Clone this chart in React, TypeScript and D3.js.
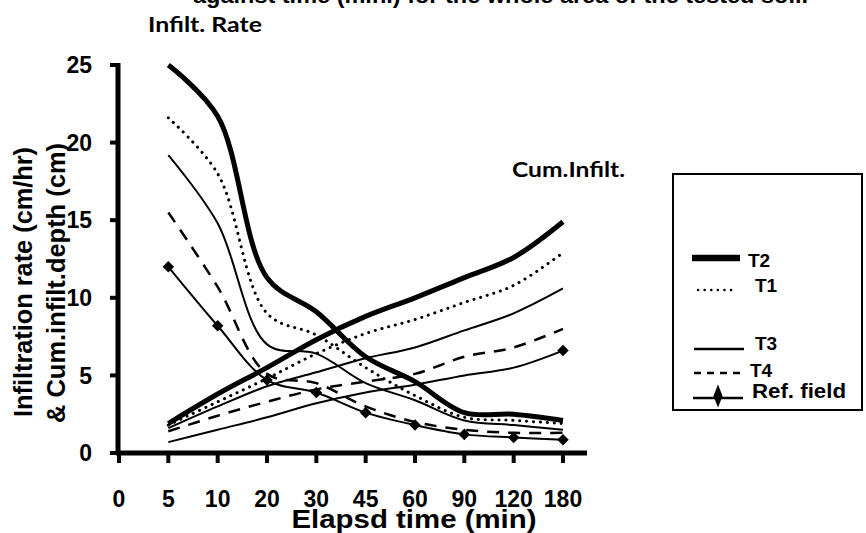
import * as d3 from "d3";

// elapsed time categories (min) and readings for 5..180
const TIMES = ["0", "5", "10", "20", "30", "45", "60", "90", "120", "180"];
const SAMPLE_TIMES = ["5", "10", "20", "30", "45", "60", "90", "120", "180"];
const Y_TICKS = [0, 5, 10, 15, 20, 25];

// infiltration rate (cm/hr)
const rateT2 = [25, 21.7, 11.3, 9.1, 6.2, 4.6, 2.6, 2.5, 2.1];
const rateT1 = [21.6, 18.0, 9.0, 7.6, 5.5, 3.7, 2.3, 2.1, 1.9];
const rateT3 = [19.2, 14.8, 7.0, 6.4, 4.5, 3.4, 2.1, 1.8, 1.5];
const rateT4 = [15.5, 10.7, 5.1, 4.5, 3.0, 2.0, 1.5, 1.3, 1.3];
const rateRef = [12.0, 8.2, 4.7, 3.9, 2.6, 1.8, 1.2, 1.0, 0.85];

// cumulative infiltration depth (cm)
const cumT2 = [1.9, 3.8, 5.5, 7.3, 8.8, 10.0, 11.3, 12.6, 14.9];
const cumT1 = [1.8, 3.3, 4.8, 6.4, 7.7, 8.6, 9.7, 10.8, 12.9];
const cumT3 = [1.6, 3.0, 4.3, 5.2, 6.1, 6.8, 7.9, 9.0, 10.6];
const cumT4 = [1.4, 2.4, 3.3, 4.1, 4.6, 5.1, 6.2, 6.8, 8.0];
const cumRef = [0.7, 1.5, 2.3, 3.2, 3.9, 4.4, 5.0, 5.5, 6.6];

const STYLES: Record<string, { w: number; dash?: string; cap?: string }> = {
  T2: { w: 5 },
  T1: { w: 3, dash: "0.1 6.8", cap: "round" },
  T3: { w: 2 },
  T4: { w: 2.5, dash: "12 9" },
  Ref: { w: 2 },
};

const SERIES = [
  { key: "T2", values: rateT2 },
  { key: "T1", values: rateT1 },
  { key: "T3", values: rateT3 },
  { key: "T4", values: rateT4 },
  { key: "Ref", values: rateRef },
  { key: "T2", values: cumT2 },
  { key: "T1", values: cumT1 },
  { key: "T3", values: cumT3 },
  { key: "T4", values: cumT4 },
  { key: "Ref", values: cumRef },
];

const FONT = "'Liberation Sans', Arial, sans-serif";
const LABEL_FONT = "Lato, 'Open Sans', sans-serif";

export default function App() {
  const x = d3.scalePoint<string>().domain(TIMES).range([119, 563]);
  const y = d3.scaleLinear().domain([0, 25]).range([453, 65]);

  const line = d3
    .line<number>()
    .x((_, i) => x(SAMPLE_TIMES[i]) ?? 0)
    .y((d) => y(d))
    .curve(d3.curveCatmullRom.alpha(0.5));

  const diamond = d3.symbol().type(d3.symbolDiamond2).size(85)() ?? "";
  const legendDiamond = d3.symbol().type(d3.symbolDiamond).size(90)() ?? "";

  const axisLeftX = 118;
  const axisRightX = 587;

  return (
    <svg
      width={866}
      height={533}
      style={{ position: "absolute", left: 0, top: 0, background: "#fff" }}
    >
      <rect width={866} height={533} fill="#fff" />

      {/* title fragment, cut by the top edge */}
      <text x={193} y={3} fontFamily={FONT} fontWeight="bold" fontSize={22} textLength={615} lengthAdjust="spacingAndGlyphs">
        against time (min.) for the whole area of the tested soil.
      </text>
      <text x={148} y={32} fontFamily={LABEL_FONT} fontWeight="bold" fontSize={20} textLength={114} lengthAdjust="spacingAndGlyphs">
        Infilt. Rate
      </text>
      <text x={512} y={177} fontFamily={LABEL_FONT} fontWeight="bold" fontSize={20} textLength={113} lengthAdjust="spacingAndGlyphs">
        Cum.Infilt.
      </text>

      {/* series */}
      {SERIES.map((s, i) => {
        const st = STYLES[s.key];
        return (
          <path
            key={i}
            d={line(s.values) ?? ""}
            fill="none"
            stroke="#000"
            strokeWidth={st.w}
            strokeDasharray={st.dash}
            strokeLinecap={(st.cap as any) ?? "butt"}
          />
        );
      })}
      {rateRef.map((v, i) => (
        <path
          key={i}
          d={diamond}
          transform={`translate(${x(SAMPLE_TIMES[i])},${y(v)})`}
          fill="#000"
        />
      ))}
      <path
        d={diamond}
        transform={`translate(${x("180")},${y(cumRef[cumRef.length - 1])})`}
        fill="#000"
      />

      {/* y axis */}
      <line x1={axisLeftX} x2={axisLeftX} y1={y(25) - 2} y2={y(0) + 2} stroke="#000" strokeWidth={5} />
      {Y_TICKS.map((t) => (
        <g key={t} transform={`translate(0,${y(t)})`}>
          <line x1={110} x2={axisLeftX} stroke="#000" strokeWidth={4} />
          <text x={92} dy="0.36em" textAnchor="end" fontFamily={FONT} fontWeight="bold" fontSize={23}>
            {t}
          </text>
        </g>
      ))}

      {/* x axis */}
      <line x1={axisLeftX - 2} x2={axisRightX} y1={y(0)} y2={y(0)} stroke="#000" strokeWidth={5} />
      {TIMES.map((t) => (
        <g key={t} transform={`translate(${x(t)},0)`}>
          <line y1={y(0)} y2={y(0) + 10} stroke="#000" strokeWidth={4} />
          <text y={507} textAnchor="middle" fontFamily={FONT} fontWeight="bold" fontSize={23}>
            {t}
          </text>
        </g>
      ))}

      {/* axis titles */}
      <text
        transform="translate(32,282) rotate(-90)"
        textAnchor="middle"
        fontFamily={FONT}
        fontWeight="bold"
        fontSize={25}
        textLength={270}
        lengthAdjust="spacingAndGlyphs"
      >
        Infiltration rate (cm/hr)
      </text>
      <text
        transform="translate(65,283) rotate(-90)"
        textAnchor="middle"
        fontFamily={FONT}
        fontWeight="bold"
        fontSize={25}
        textLength={280}
        lengthAdjust="spacingAndGlyphs"
      >
        &amp; Cum.infilt.depth (cm)
      </text>
      <text
        x={414}
        y={528}
        textAnchor="middle"
        fontFamily={FONT}
        fontWeight="bold"
        fontSize={25}
        textLength={245}
        lengthAdjust="spacingAndGlyphs"
      >
        Elapsd time (min)
      </text>

      {/* legend */}
      <rect x={673} y={174} width={189} height={236} fill="none" stroke="#000" strokeWidth={2} />
      <line x1={692} x2={740} y1={258} y2={258} stroke="#000" strokeWidth={6.5} />
      <text x={748} y={267} fontFamily={FONT} fontWeight="bold" fontSize={19}>T2</text>
      <line x1={698} x2={733} y1={290} y2={290} stroke="#000" strokeWidth={2.5} strokeDasharray="0.1 6.5" strokeLinecap="round" />
      <text x={755} y={292} fontFamily={FONT} fontWeight="bold" fontSize={19}>T1</text>
      <line x1={694} x2={744} y1={349} y2={349} stroke="#000" strokeWidth={2.5} />
      <text x={755} y={350} fontFamily={FONT} fontWeight="bold" fontSize={19}>T3</text>
      <line x1={694} x2={744} y1={373} y2={373} stroke="#000" strokeWidth={2.5} strokeDasharray="7 6" />
      <text x={750} y={377} fontFamily={FONT} fontWeight="bold" fontSize={19}>T4</text>
      <line x1={693} x2={743} y1={398} y2={398} stroke="#000" strokeWidth={2.5} />
      <path d={legendDiamond} transform="translate(718,396) scale(0.9,1.3)" fill="#000" />
      <text x={752} y={398} fontFamily={FONT} fontWeight="bold" fontSize={20} textLength={94} lengthAdjust="spacingAndGlyphs">Ref. field</text>
    </svg>
  );
}
